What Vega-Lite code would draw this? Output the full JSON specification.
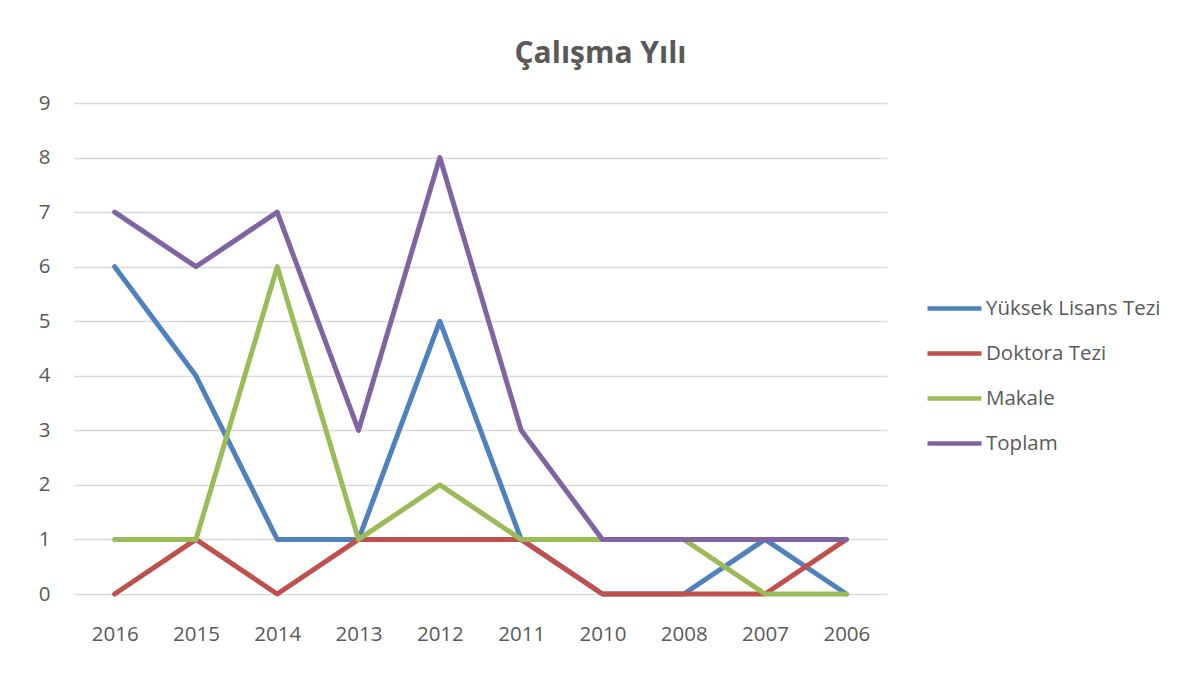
{
  "$schema": "https://vega.github.io/schema/vega-lite/v6.json",
  "autosize": "none",
  "width": 813,
  "height": 491,
  "padding": {"left": 74, "top": 103, "right": 302, "bottom": 83},
  "background": "white",
  "title": {
    "text": "Çalışma Yılı",
    "font": "Open Sans",
    "fontSize": 30,
    "fontWeight": "bold",
    "color": "#595959",
    "anchor": "middle",
    "dx": 120,
    "baseline": "alphabetic",
    "offset": 0
  },
  "config": {
    "view": {"stroke": null},
    "font": "Open Sans",
    "axis": {
      "labelFont": "Open Sans",
      "labelFontSize": 20.5,
      "labelColor": "#595959",
      "domain": false,
      "ticks": false,
      "title": null,
      "gridColor": "#D9D9D9",
      "gridWidth": 1.3
    }
  },
  "data": {
    "values": [
      {"yil": "2016", "seri": "Yüksek Lisans Tezi", "sayi": 6},
      {"yil": "2015", "seri": "Yüksek Lisans Tezi", "sayi": 4},
      {"yil": "2014", "seri": "Yüksek Lisans Tezi", "sayi": 1},
      {"yil": "2013", "seri": "Yüksek Lisans Tezi", "sayi": 1},
      {"yil": "2012", "seri": "Yüksek Lisans Tezi", "sayi": 5},
      {"yil": "2011", "seri": "Yüksek Lisans Tezi", "sayi": 1},
      {"yil": "2010", "seri": "Yüksek Lisans Tezi", "sayi": 0},
      {"yil": "2008", "seri": "Yüksek Lisans Tezi", "sayi": 0},
      {"yil": "2007", "seri": "Yüksek Lisans Tezi", "sayi": 1},
      {"yil": "2006", "seri": "Yüksek Lisans Tezi", "sayi": 0},
      {"yil": "2016", "seri": "Doktora Tezi", "sayi": 0},
      {"yil": "2015", "seri": "Doktora Tezi", "sayi": 1},
      {"yil": "2014", "seri": "Doktora Tezi", "sayi": 0},
      {"yil": "2013", "seri": "Doktora Tezi", "sayi": 1},
      {"yil": "2012", "seri": "Doktora Tezi", "sayi": 1},
      {"yil": "2011", "seri": "Doktora Tezi", "sayi": 1},
      {"yil": "2010", "seri": "Doktora Tezi", "sayi": 0},
      {"yil": "2008", "seri": "Doktora Tezi", "sayi": 0},
      {"yil": "2007", "seri": "Doktora Tezi", "sayi": 0},
      {"yil": "2006", "seri": "Doktora Tezi", "sayi": 1},
      {"yil": "2016", "seri": "Makale", "sayi": 1},
      {"yil": "2015", "seri": "Makale", "sayi": 1},
      {"yil": "2014", "seri": "Makale", "sayi": 6},
      {"yil": "2013", "seri": "Makale", "sayi": 1},
      {"yil": "2012", "seri": "Makale", "sayi": 2},
      {"yil": "2011", "seri": "Makale", "sayi": 1},
      {"yil": "2010", "seri": "Makale", "sayi": 1},
      {"yil": "2008", "seri": "Makale", "sayi": 1},
      {"yil": "2007", "seri": "Makale", "sayi": 0},
      {"yil": "2006", "seri": "Makale", "sayi": 0},
      {"yil": "2016", "seri": "Toplam", "sayi": 7},
      {"yil": "2015", "seri": "Toplam", "sayi": 6},
      {"yil": "2014", "seri": "Toplam", "sayi": 7},
      {"yil": "2013", "seri": "Toplam", "sayi": 3},
      {"yil": "2012", "seri": "Toplam", "sayi": 8},
      {"yil": "2011", "seri": "Toplam", "sayi": 3},
      {"yil": "2010", "seri": "Toplam", "sayi": 1},
      {"yil": "2008", "seri": "Toplam", "sayi": 1},
      {"yil": "2007", "seri": "Toplam", "sayi": 1},
      {"yil": "2006", "seri": "Toplam", "sayi": 1}
    ]
  },
  "encoding": {
    "x": {
      "field": "yil",
      "type": "ordinal",
      "sort": ["2016", "2015", "2014", "2013", "2012", "2011", "2010", "2008", "2007", "2006"],
      "scale": {"type": "point", "padding": 0.5},
      "axis": {"labelAngle": 0, "grid": false, "labelPadding": 30}
    },
    "y": {
      "field": "sayi",
      "type": "quantitative",
      "scale": {"domain": [0, 9], "nice": false},
      "axis": {"values": [0, 1, 2, 3, 4, 5, 6, 7, 8, 9], "labelPadding": 24, "grid": true}
    },
    "color": {
      "field": "seri",
      "type": "nominal",
      "scale": {
        "domain": ["Yüksek Lisans Tezi", "Doktora Tezi", "Makale", "Toplam"],
        "range": ["#4F81BD", "#C0504D", "#9BBB59", "#8064A2"]
      },
      "legend": {
        "title": null,
        "orient": "none",
        "legendX": 851,
        "legendY": 176,
        "padding": 0,
        "symbolType": "stroke",
        "symbolSize": 2916,
        "symbolStrokeWidth": 4.5,
        "labelFont": "Open Sans",
        "labelFontSize": 20.5,
        "labelColor": "#595959",
        "labelOffset": 2,
        "labelLimit": 400,
        "rowPadding": 5
      }
    }
  },
  "layer": [
    {
      "transform": [{"filter": "datum.seri === 'Yüksek Lisans Tezi'"}],
      "mark": {"type": "line", "strokeWidth": 5, "strokeCap": "round", "strokeJoin": "round"}
    },
    {
      "transform": [{"filter": "datum.seri === 'Doktora Tezi'"}],
      "mark": {"type": "line", "strokeWidth": 5, "strokeCap": "round", "strokeJoin": "round"}
    },
    {
      "transform": [{"filter": "datum.seri === 'Makale'"}],
      "mark": {"type": "line", "strokeWidth": 5, "strokeCap": "round", "strokeJoin": "round"}
    },
    {
      "transform": [{"filter": "datum.seri === 'Toplam'"}],
      "mark": {"type": "line", "strokeWidth": 5, "strokeCap": "round", "strokeJoin": "round"}
    }
  ]
}
